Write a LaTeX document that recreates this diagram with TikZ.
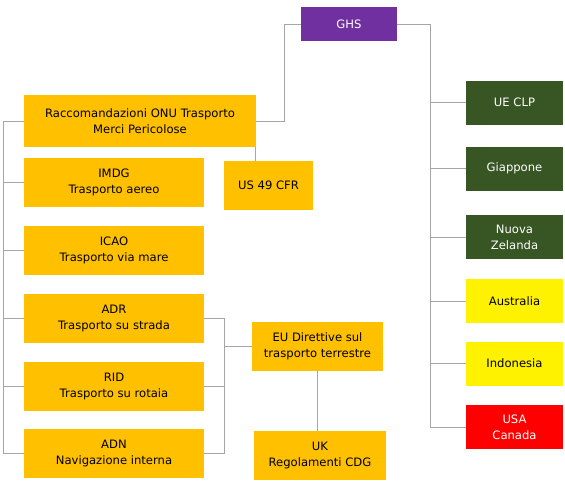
\documentclass[tikz,border=0pt]{standalone}
\usepackage{fontspec}
\setmainfont{DejaVu Sans}
\usepackage{xcolor}
\usetikzlibrary{positioning}

\definecolor{ghspurple}{HTML}{7030A0}
\definecolor{unorange}{HTML}{FFC000}
\definecolor{clpgreen}{HTML}{375623}
\definecolor{linkgray}{HTML}{A6A6A6}

\tikzset{
    box/.style={inner sep=0pt, align=center, font=\fontsize{11.6}{16}\selectfont},
    link/.style={draw=linkgray, line width=1pt}
}

\begin{document}
\begin{tikzpicture}[x=1pt, y=-1pt]
    \useasboundingbox (0,0) rectangle (565,483);

    % Top of the tree
    \node[box, fill=ghspurple, text=white, minimum width=96, minimum height=34] (ghs) at (349,24) {GHS};

    % UN recommendations and US rules
    \node[box, fill=unorange, minimum width=232, minimum height=52] (onu) at (140,121) {Raccomandazioni ONU Trasporto\\Merci Pericolose};
    \node[box, fill=unorange, minimum width=89, minimum height=49] (us) at (268.5,185.5) {US 49 CFR};

    % Transport modes
    \foreach \name/\y/\txt in {imdg/182.5/{IMDG\\Trasporto aereo}, icao/250/{ICAO\\Trasporto via mare}, adr/318.5/{ADR\\Trasporto su strada}, rid/386.5/{RID\\Trasporto su rotaia}, adn/453.5/{ADN\\Navigazione interna}} {
        \node[box, fill=unorange, minimum width=180, minimum height=49] (\name) at (114,\y) {\txt};
    }

    % EU and UK
    \node[box, fill=unorange, minimum width=131, minimum height=49] (eu) at (317.5,346.5) {EU Direttive sul\\trasporto terrestre};
    \node[box, fill=unorange, minimum width=132, minimum height=49] (uk) at (320,455.5) {UK\\Regolamenti CDG};

    % Countries
    \foreach \name/\y/\col/\tcol/\txt in {ue/102.5/clpgreen/white/{UE CLP}, jp/168.5/clpgreen/white/Giappone, nz/237/clpgreen/white/{Nuova\\Zelanda}, au/301/yellow/black/Australia, id/363.5/yellow/black/Indonesia, usa/427/red/white/{USA\\Canada}} {
        \node[box, fill=\col, text=\tcol, minimum width=97, minimum height=44] (\name) at (514.5,\y) {\txt};
    }

    % Connectors on the right
    \coordinate (rs) at (430,24);
    \draw[link] (ghs.east) -- (rs);
    \foreach \name in {ue, jp, nz, au, id, usa}
        \draw[link] (rs) |- (\name.west);

    % Connectors on the left
    \draw[link] (onu.east) -- ++(28,0) |- (ghs.west);
    \coordinate (ls) at (3,121);
    \draw[link] (onu.west) -- (ls);
    \foreach \name in {imdg, icao, adr, rid, adn}
        \draw[link] (ls) |- (\name.west);
    \draw[link] ([xshift=-1pt]onu.south east) -- ([xshift=-1pt]onu.south east |- us.north);

    % Land transport to EU
    \coordinate (mj) at (224,346.5);
    \foreach \name in {adr, rid, adn}
        \draw[link] (\name.east) -| (mj);
    \draw[link] (mj) -- (eu.west);
    \draw[link] (eu.south) -- (eu.south |- uk.north);
\end{tikzpicture}
\end{document}
